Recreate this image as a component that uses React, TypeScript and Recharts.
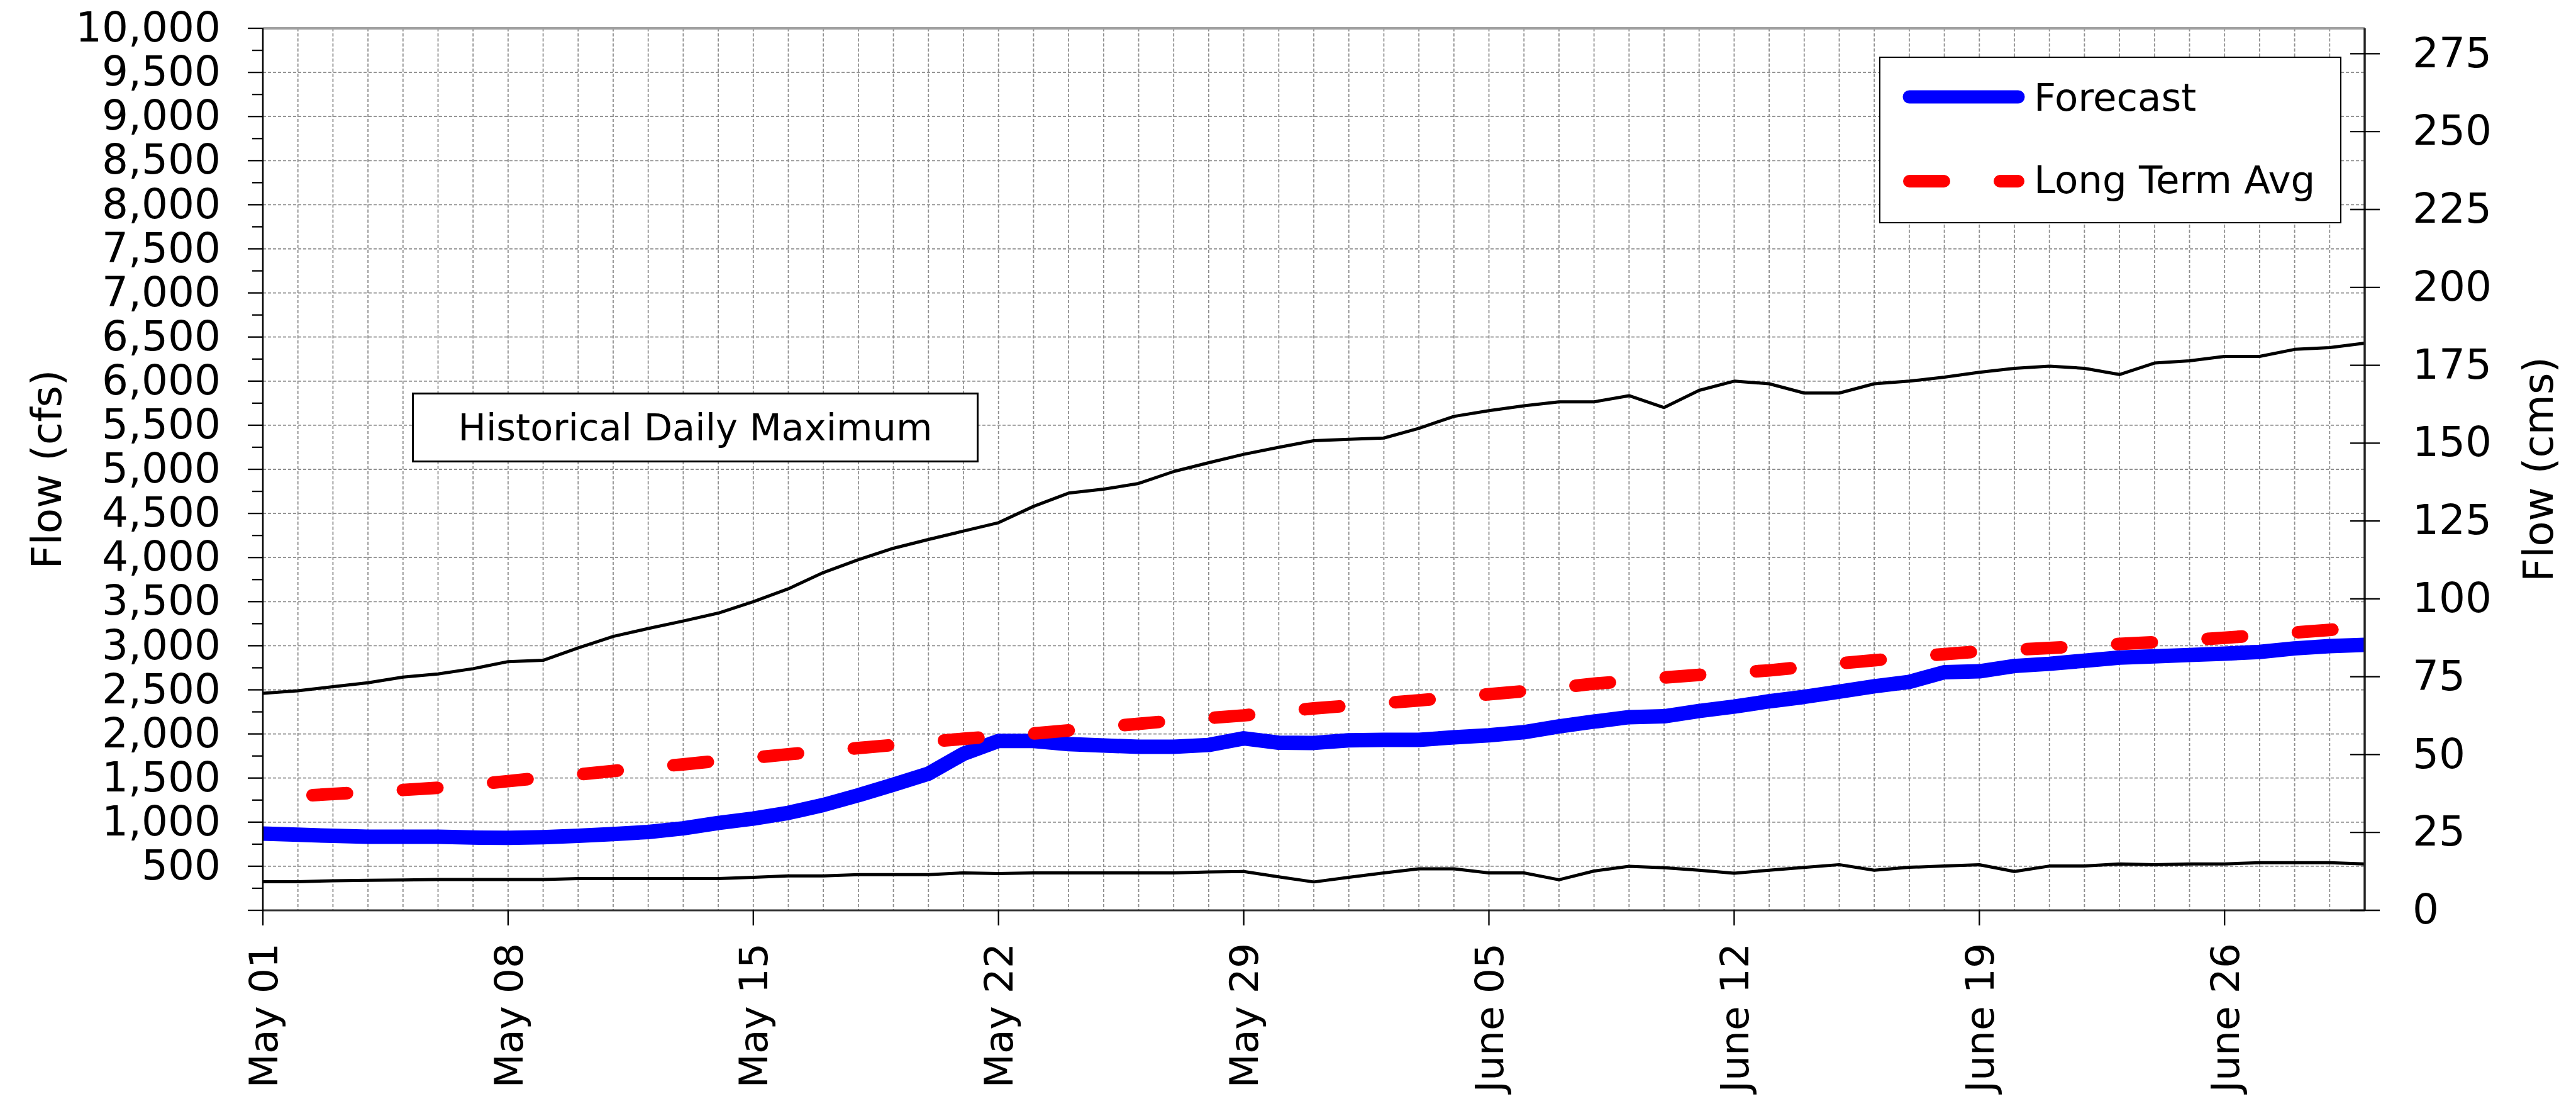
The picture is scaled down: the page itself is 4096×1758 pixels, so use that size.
import { LineChart, Line, XAxis, YAxis, CartesianGrid, ReferenceLine, Legend } from 'recharts'

// ─── Data ─────────────────────────────────────────────────────────────────────

// one value per day, May 01 (index 0) .. June 30 (index 60), flows in cfs
const FORECAST = [
  870, 857, 845, 835, 835, 835, 825, 822, 830, 845,
  865, 888, 930, 990, 1040, 1105, 1195, 1305, 1425, 1550,
  1775, 1920, 1920, 1885, 1868, 1855, 1855, 1875, 1950, 1900,
  1898, 1928, 1933, 1933, 1962, 1985, 2020, 2085, 2140, 2190,
  2200, 2260, 2310, 2370, 2420, 2480, 2540, 2590, 2700, 2710,
  2770, 2795, 2830, 2865, 2880, 2895, 2910, 2930, 2970, 2995,
  3010,
]

const LONG_TERM_AVG = [
  1270, 1295, 1320, 1340, 1365, 1390, 1425, 1465, 1505, 1540,
  1580, 1620, 1655, 1695, 1730, 1770, 1805, 1840, 1875, 1910,
  1945, 1975, 2005, 2040, 2080, 2115, 2150, 2180, 2210, 2250,
  2290, 2320, 2350, 2380, 2415, 2450, 2485, 2525, 2570, 2600,
  2640, 2670, 2695, 2720, 2760, 2800, 2835, 2870, 2905, 2935,
  2955, 2975, 2995, 3020, 3040, 3065, 3090, 3120, 3150, 3180,
  3210,
]

const HIST_MAX = [
  2460, 2490, 2535, 2580, 2645, 2680, 2740, 2820, 2835, 2975,
  3105, 3195, 3280, 3370, 3500, 3645, 3830, 3975, 4105, 4205,
  4300, 4395, 4580, 4730, 4775, 4840, 4975, 5075, 5170, 5250,
  5325, 5340, 5355, 5465, 5600, 5665, 5720, 5765, 5765, 5835,
  5700, 5895, 6000, 5970, 5865, 5865, 5970, 6000, 6045, 6100,
  6145, 6170, 6145, 6075, 6205, 6230, 6280, 6280, 6360, 6380,
  6430,
]

const HIST_MIN = [
  325, 325, 335, 340, 345, 350, 350, 350, 350, 360,
  360, 360, 360, 360, 375, 390, 390, 405, 405, 405,
  425, 418, 425, 425, 425, 425, 425, 435, 440, 380,
  322, 375, 425, 470, 470, 424, 424, 347, 446, 500,
  484, 455, 421, 455, 486, 518, 455, 488, 502, 517,
  440, 502, 502, 526, 517, 526, 526, 540, 540, 540,
  526,
]

const TICK_DAYS = [0, 7, 14, 21, 28, 35, 42, 49, 56]
const TICK_LABELS = ['May 01', 'May 08', 'May 15', 'May 22', 'May 29', 'June 05', 'June 12', 'June 19', 'June 26']

const CFS_TICKS = [
  0, 250, 500, 750, 1000, 1250, 1500, 1750, 2000, 2250, 2500, 2750, 3000, 3250,
  3500, 3750, 4000, 4250, 4500, 4750, 5000, 5250, 5500, 5750, 6000, 6250, 6500,
  6750, 7000, 7250, 7500, 7750, 8000, 8250, 8500, 8750, 9000, 9250, 9500, 9750, 10000,
]
const GRID_CFS = [500, 1000, 1500, 2000, 2500, 3000, 3500, 4000, 4500, 5000, 5500, 6000, 6500, 7000, 7500, 8000, 8500, 9000, 9500]
const CMS_TICKS = [0, 25, 50, 75, 100, 125, 150, 175, 200, 225, 250, 275]

const CFS_MAX = 10000
const CFS_TO_CMS = 0.0283168
const LAST_DAY = 60

const data = FORECAST.map((v, i) => ({
  day: i,
  forecast: v,
  avg: LONG_TERM_AVG[i],
  max: HIST_MAX[i],
  min: HIST_MIN[i],
}))
const GRID_DAYS = data.map((d) => d.day).filter((d) => d > 0 && d < LAST_DAY)

// ─── Constants ────────────────────────────────────────────────────────────────

const W = 4096
const H = 1758
const FONT = "'DejaVu Sans', sans-serif"
const BLUE = '#0000ff'
const RED = '#ff0000'
const RED_DASH = '55 89'
const GRID = '#8f8f8f'

// ─── Ticks ────────────────────────────────────────────────────────────────────

function CfsTick({ x, y, payload }: any) {
  const v = payload.value as number
  const major = v % 500 === 0
  return (
    <g>
      <line x1={x - (major ? 24 : 17)} x2={x} y1={y} y2={y} stroke="#000" strokeWidth={2.3} />
      {major && v > 0 && (
        <text x={x - 67} y={y} dy="0.32em" textAnchor="end" fontFamily={FONT} fontSize={66} fill="#000">
          {v.toLocaleString('en-US')}
        </text>
      )}
    </g>
  )
}

function CmsTick({ x, y, payload }: any) {
  return (
    <g>
      <line x1={x - 23} x2={x + 24} y1={y} y2={y} stroke="#000" strokeWidth={2.3} />
      <text x={x + 76} y={y} dy="0.32em" textAnchor="start" fontFamily={FONT} fontSize={66} fill="#000">
        {payload.value}
      </text>
    </g>
  )
}

function DayTick({ x, y, payload }: any) {
  const label = TICK_LABELS[TICK_DAYS.indexOf(payload.value)]
  const ty = y + 52
  return (
    <g>
      <line x1={x} x2={x} y1={y} y2={y + 24} stroke="#000" strokeWidth={2.3} />
      <text
        x={x}
        y={ty}
        dy="0.36em"
        textAnchor="end"
        transform={`rotate(-90 ${x} ${ty})`}
        fontFamily={FONT}
        fontSize={63}
        fill="#000"
      >
        {label}
      </text>
    </g>
  )
}

function axisTitle(text: string, dx: number) {
  return (props: any) => {
    const vb = props.viewBox
    const cx = vb.x + dx
    const cy = vb.y + vb.height / 2
    return (
      <text
        x={cx}
        y={cy}
        dy="0.36em"
        textAnchor="middle"
        transform={`rotate(-90 ${cx} ${cy})`}
        fontFamily={FONT}
        fontSize={66}
        fill="#000"
      >
        {text}
      </text>
    )
  }
}

// ─── Legend ───────────────────────────────────────────────────────────────────

function LegendBox() {
  return (
    <div style={{ width: 735, height: 265, border: '2.5px solid #000', background: '#fff', boxSizing: 'border-box' }}>
      <svg width={730} height={260} style={{ display: 'block' }}>
        <line x1={46} x2={219} y1={62} y2={62} stroke={BLUE} strokeWidth={21} strokeLinecap="round" />
        <text x={244} y={62} dy="0.36em" fontFamily={FONT} fontSize={61} fill="#000">Forecast</text>
        <line
          x1={46}
          x2={219}
          y1={196}
          y2={196}
          stroke={RED}
          strokeWidth={20}
          strokeLinecap="round"
          strokeDasharray={RED_DASH}
        />
        <text x={244} y={193} dy="0.36em" fontFamily={FONT} fontSize={61} fill="#000">Long Term Avg</text>
      </svg>
    </div>
  )
}

// ─── Component ────────────────────────────────────────────────────────────────

export default function App() {
  return (
    <div style={{ position: 'relative', width: W, height: H, background: '#fff' }}>
      <style>{'body { margin: 0; }'}</style>
      <LineChart width={W} height={H} data={data} margin={{ top: 45, right: 0, bottom: 0, left: 0 }}>
        <CartesianGrid
          xAxisId="day"
          yAxisId="cfs"
          verticalValues={GRID_DAYS}
          horizontalValues={GRID_CFS}
          stroke={GRID}
          strokeWidth={1.8}
          strokeDasharray="5 3"
        />
        <XAxis
          xAxisId="day"
          dataKey="day"
          type="number"
          domain={[0, LAST_DAY]}
          ticks={TICK_DAYS}
          interval={0}
          allowDataOverflow
          height={311}
          tickSize={0}
          tickMargin={0}
          tickLine={false}
          tick={<DayTick />}
          axisLine={{ stroke: '#333', strokeWidth: 3 }}
        />
        <YAxis
          yAxisId="cfs"
          orientation="left"
          type="number"
          domain={[0, CFS_MAX]}
          ticks={CFS_TICKS}
          interval={0}
          allowDataOverflow
          width={418}
          tickSize={0}
          tickMargin={0}
          tickLine={false}
          tick={<CfsTick />}
          axisLine={{ stroke: '#000', strokeWidth: 2.5 }}
          label={{ content: axisTitle('Flow (cfs)', 73) }}
        />
        <YAxis
          yAxisId="cms"
          orientation="right"
          type="number"
          domain={[0, CFS_MAX * CFS_TO_CMS]}
          ticks={CMS_TICKS}
          interval={0}
          allowDataOverflow
          width={336}
          tickSize={0}
          tickMargin={0}
          tickLine={false}
          tick={<CmsTick />}
          axisLine={{ stroke: '#222', strokeWidth: 3.5 }}
          label={{ content: axisTitle('Flow (cms)', 275) }}
        />
        <ReferenceLine xAxisId="day" yAxisId="cfs" y={CFS_MAX} stroke="#a0a0a0" strokeWidth={4} />
        <Legend
          layout="horizontal"
          verticalAlign="middle"
          align="center"
          wrapperStyle={{ left: 2988, top: 90, width: 735, height: 265 }}
          content={() => <LegendBox />}
        />
        <Line
          xAxisId="day"
          yAxisId="cfs"
          type="linear"
          dataKey="max"
          stroke="#000"
          strokeWidth={5}
          strokeLinejoin="round"
          dot={false}
          activeDot={false}
          isAnimationActive={false}
        />
        <Line
          xAxisId="day"
          yAxisId="cfs"
          type="linear"
          dataKey="min"
          stroke="#000"
          strokeWidth={5}
          strokeLinejoin="round"
          dot={false}
          activeDot={false}
          isAnimationActive={false}
        />
        <Line
          xAxisId="day"
          yAxisId="cfs"
          type="linear"
          dataKey="forecast"
          stroke={BLUE}
          strokeWidth={23}
          strokeLinejoin="round"
          dot={false}
          activeDot={false}
          isAnimationActive={false}
        />
        <Line
          xAxisId="day"
          yAxisId="cfs"
          type="linear"
          dataKey="avg"
          stroke={RED}
          strokeWidth={20}
          strokeLinecap="round"
          strokeDasharray={RED_DASH}
          strokeDashoffset={65}
          dot={false}
          activeDot={false}
          isAnimationActive={false}
        />
      </LineChart>
      {/* Annotation for the upper black line */}
      <div
        style={{
          position: 'absolute',
          left: 655,
          top: 624,
          width: 901,
          height: 111,
          border: '3px solid #000',
          boxSizing: 'border-box',
          background: '#fff',
          display: 'flex',
          alignItems: 'center',
          justifyContent: 'center',
          fontFamily: FONT,
          fontSize: 59,
          color: '#000',
          whiteSpace: 'nowrap',
        }}
      >
        Historical Daily Maximum
      </div>
    </div>
  )
}
